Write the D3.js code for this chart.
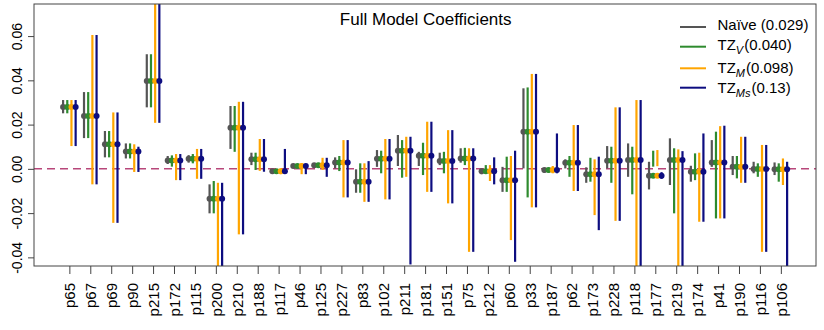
<!DOCTYPE html>
<html>
<head>
<meta charset="utf-8">
<script src="https://cdn.jsdelivr.net/npm/d3@7"></script>
<style>
  body { margin: 0; background: #fff; }
  svg { display: block; font-family: "Liberation Sans", Arial, sans-serif; }
</style>
</head>
<body>
<svg id="chart" width="824" height="330"></svg>
<script>
// ---- data ----
const categories = ["p65","p67","p69","p90","p215","p172","p115","p200","p210","p188","p117","p46",
  "p125","p227","p83","p102","p211","p181","p151","p75","p212","p60","p33","p187","p62","p173",
  "p228","p118","p177","p219","p174","p41","p190","p116","p106"];

// point estimate (same for all four fits)
const coef = [0.0279,0.0239,0.0111,0.0079,0.0397,0.0038,0.0046,-0.0135,0.0186,0.0043,-0.0011,0.0013,
  0.0016,0.0029,-0.0058,0.0046,0.0082,0.0059,0.0035,0.0047,-0.0011,-0.0051,0.0168,-0.0005,0.0028,-0.0024,
  0.0037,0.0040,-0.0031,0.0040,-0.0013,0.0029,0.0009,-0.0001,-0.0002];

const naiveLo = [0.0251,0.0139,0.0052,0.0047,0.0278,0.0022,0.0028,-0.0201,0.0090,0.0017,-0.0020,0.0004,
  0.0005,0.0002,-0.0108,0.0009,0.0013,0.0013,0.0017,0.0028,-0.0024,-0.0104,0.0002,-0.0018,0.0002,-0.0063,
  0.0002,-0.0036,-0.0093,-0.0073,-0.0058,0.0009,-0.0028,-0.0020,-0.0028];
const naiveHi = [0.0311,0.0347,0.0171,0.0115,0.0518,0.0058,0.0062,-0.0070,0.0284,0.0073,-0.0002,0.0022,
  0.0025,0.0052,-0.0002,0.0085,0.0153,0.0077,0.0073,0.0093,0.0002,0.0009,0.0364,0.0002,0.0043,0.0007,
  0.0103,0.0115,0.0032,0.0138,0.0014,0.0130,0.0058,0.0032,0.0029];

const tzVLo = [0.0251,0.0139,0.0052,0.0047,0.0278,0.0010,0.0025,-0.0201,0.0077,-0.0005,-0.0020,0.0003,
  0.0004,-0.0010,-0.0108,-0.0020,-0.0040,-0.0028,-0.0020,0.0017,-0.0020,-0.0104,-0.0129,-0.0018,-0.0036,-0.0058,
  -0.0063,-0.0115,0.0010,-0.0201,-0.0051,-0.0224,-0.0043,-0.0036,-0.0058];
const tzVHi = [0.0311,0.0347,0.0171,0.0115,0.0518,0.0061,0.0067,-0.0055,0.0284,0.0073,-0.0002,0.0022,
  0.0027,0.0058,0.0025,0.0082,0.0130,0.0118,0.0077,0.0095,0.0017,0.0055,0.0368,0.0005,0.0058,0.0050,
  0.0100,0.0100,0.0082,0.0093,0.0070,0.0168,0.0058,0.0025,0.0025];

const tzMLo = [0.0103,-0.0070,-0.0244,-0.0014,0.0208,-0.0051,-0.0045,-0.0600,-0.0296,-0.0009,-0.0024,-0.0024,
  -0.0005,-0.0129,-0.0149,-0.0138,-0.0036,-0.0104,-0.0156,-0.0375,-0.0055,-0.0322,-0.0174,-0.0020,-0.0100,-0.0209,
  -0.0235,-0.0550,0.0012,-0.0600,-0.0239,-0.0224,-0.0063,-0.0375,-0.0073];
const tzMHi = [0.0311,0.0605,0.0255,0.0111,0.0850,0.0067,0.0090,-0.0063,0.0303,0.0135,0.0002,0.0025,
  0.0050,0.0130,0.0025,0.0135,0.0145,0.0213,0.0175,0.0093,0.0017,0.0058,0.0429,0.0013,0.0198,0.0043,
  0.0278,0.0311,0.0085,0.0088,0.0073,0.0193,0.0145,0.0108,0.0047];

const tzMsLo = [0.0103,-0.0070,-0.0244,-0.0014,0.0208,-0.0051,-0.0045,-0.0600,-0.0296,-0.0013,-0.0020,-0.0024,
  -0.0036,-0.0129,-0.0149,-0.0138,-0.0432,-0.0104,-0.0156,-0.0375,-0.0070,-0.0420,-0.0174,-0.0020,-0.0100,-0.0277,
  -0.0235,-0.0550,-0.0045,-0.0600,-0.0239,-0.0224,-0.0063,-0.0375,-0.0500];
const tzMsHi = [0.0311,0.0605,0.0255,0.0100,0.0850,0.0067,0.0090,-0.0063,0.0303,0.0135,0.0090,0.0022,
  0.0050,0.0130,0.0035,0.0135,0.0145,0.0213,0.0175,0.0093,0.0052,0.0082,0.0429,0.0160,0.0198,0.0055,
  0.0278,0.0311,-0.0015,0.0080,0.0160,0.0195,0.0145,0.0108,0.0032];

const yTicks = [-0.04, -0.02, 0.00, 0.02, 0.04, 0.06];

const series = [
  { name: "Naïve", sub: null, stat: "(0.029)", color: "#555555", lo: naiveLo, hi: naiveHi, off: -0.3 },
  { name: "TZ", sub: "V", stat: "(0.040)", color: "#2e8b2e", lo: tzVLo, hi: tzVHi, off: -0.1 },
  { name: "TZ", sub: "M", stat: "(0.098)", color: "#ffa500", lo: tzMLo, hi: tzMHi, off: 0.1 },
  { name: "TZ", sub: "Ms", stat: "(0.13)", color: "#0d0d80", lo: tzMsLo, hi: tzMsHi, off: 0.3 }
];

// ---- layout ----
const box = { left: 34, right: 816, top: 4, bottom: 266 };
const svg = d3.select("#chart");

const x = d3.scaleLinear().domain([-1.69, 35.68]).range([box.left, box.right]);
const y = d3.scaleLinear().domain([-0.0439, 0.0745]).range([box.bottom, box.top]);

svg.append("defs").append("clipPath").attr("id", "plotclip")
  .append("rect")
  .attr("x", box.left).attr("y", box.top)
  .attr("width", box.right - box.left).attr("height", box.bottom - box.top);

const plot = svg.append("g").attr("clip-path", "url(#plotclip)");

// zero reference line
plot.append("line")
  .attr("x1", box.left).attr("x2", box.right)
  .attr("y1", y(0)).attr("y2", y(0))
  .attr("stroke", "#b8477a").attr("stroke-width", 1.5)
  .attr("stroke-dasharray", "8,5");

// interval bars
series.forEach(s => {
  plot.append("g").selectAll("line")
    .data(categories.map((c, i) => i))
    .join("line")
    .attr("x1", i => x(i + s.off)).attr("x2", i => x(i + s.off))
    .attr("y1", i => y(s.lo[i])).attr("y2", i => y(s.hi[i]))
    .attr("stroke", s.color).attr("stroke-width", 2.2);
});

// point estimates
series.forEach(s => {
  plot.append("g").selectAll("circle")
    .data(categories.map((c, i) => i))
    .join("circle")
    .attr("cx", i => x(i + s.off)).attr("cy", i => y(coef[i]))
    .attr("r", 3)
    .attr("fill", s.color);
});

// ---- axes ----
const xAxis = svg.append("g")
  .attr("transform", `translate(0,${box.bottom})`)
  .call(d3.axisBottom(x)
    .tickValues(d3.range(categories.length))
    .tickFormat(i => categories[i])
    .tickSize(8)
    .tickSizeOuter(0));
xAxis.select(".domain").remove();
xAxis.selectAll("line").attr("stroke", "#444");
xAxis.selectAll("text")
  .attr("transform", "rotate(-90)")
  .attr("x", -17).attr("y", 0).attr("dy", "0.36em")
  .attr("text-anchor", "end")
  .attr("font-size", 15).attr("font-family", "Liberation Sans, Arial, sans-serif")
  .attr("fill", "#000");

const yAxis = svg.append("g")
  .attr("transform", `translate(${box.left},0)`)
  .call(d3.axisLeft(y)
    .tickValues(yTicks)
    .tickFormat(d => d.toFixed(2))
    .tickSize(6)
    .tickSizeOuter(0));
yAxis.select(".domain").remove();
yAxis.selectAll("line").attr("stroke", "#444");
yAxis.selectAll("text")
  .attr("transform", "rotate(-90)")
  .attr("x", 0).attr("y", -12.5).attr("dy", 0)
  .attr("text-anchor", "middle")
  .attr("font-size", 14).attr("font-family", "Liberation Sans, Arial, sans-serif")
  .attr("fill", "#000");

// frame
svg.append("rect")
  .attr("x", box.left).attr("y", box.top)
  .attr("width", box.right - box.left).attr("height", box.bottom - box.top)
  .attr("fill", "none").attr("stroke", "#444").attr("stroke-width", 1);

// title
svg.append("text")
  .attr("x", 425.7).attr("y", 25)
  .attr("text-anchor", "middle")
  .attr("font-size", 17)
  .text("Full Model Coefficients");

// ---- legend ----
const legendRows = [
  { lineY: 27, textY: 30 },
  { lineY: 46.7, textY: 50 },
  { lineY: 68.3, textY: 72.7 },
  { lineY: 87.7, textY: 93.3 }
];
const legend = svg.append("g");
series.forEach((s, k) => {
  const row = legendRows[k];
  legend.append("line")
    .attr("x1", 680).attr("x2", 706)
    .attr("y1", row.lineY).attr("y2", row.lineY)
    .attr("stroke", s.color).attr("stroke-width", 2);
  const t = legend.append("text")
    .attr("x", 717.5).attr("y", row.textY)
    .attr("font-size", 15);
  if (s.sub) {
    t.append("tspan").text(s.name);
    t.append("tspan").attr("dy", 4).attr("font-size", 11).attr("font-style", "italic").text(s.sub);
    t.append("tspan").attr("dy", -4).attr("dx", 1).text(s.stat);
  } else {
    t.text(s.name + " " + s.stat);
  }
});
</script>
</body>
</html>
